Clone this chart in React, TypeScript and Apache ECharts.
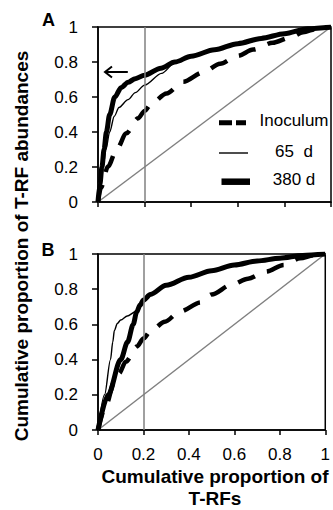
import React, { useEffect, useRef } from "react";
import * as echarts from "echarts";

// ---- data ----
const X_TICKS = [0, 0.2, 0.4, 0.6, 0.8, 1];
const Y_TICKS = [0, 0.2, 0.4, 0.6, 0.8, 1];
const PANEL_LABELS = ["A", "B"];
const LEGEND_NAMES = ["Inoculum", "65  d", "380 d"];
const REF_X = 0.2;
const DIAGONAL = [[0, 0], [1, 1]];

const inoculumA = [
  [0, 0], [0.012, 0.08], [0.043, 0.203], [0.079, 0.298], [0.122, 0.393], [0.172, 0.478],
  [0.2, 0.52], [0.23, 0.564], [0.294, 0.62], [0.366, 0.687], [0.45, 0.74], [0.524, 0.79],
  [0.6, 0.835], [0.666, 0.871], [0.75, 0.91], [0.825, 0.94], [0.88, 0.97], [0.94, 0.99], [1, 1],
];
const d65A = [
  [0, 0], [0.01, 0.1], [0.022, 0.2], [0.034, 0.3], [0.05, 0.4], [0.07, 0.49], [0.09, 0.54],
  [0.129, 0.585], [0.16, 0.625], [0.2, 0.668], [0.273, 0.735], [0.33, 0.795], [0.4, 0.833],
  [0.5, 0.87], [0.6, 0.905], [0.7, 0.935], [0.8, 0.962], [0.9, 0.99], [1, 1],
];
const d380A = [
  [0, 0], [0.008, 0.1], [0.017, 0.2], [0.026, 0.3], [0.036, 0.4], [0.05, 0.5], [0.072, 0.6],
  [0.1, 0.655], [0.13, 0.685], [0.16, 0.705], [0.2, 0.725], [0.27, 0.765], [0.33, 0.8],
  [0.4, 0.833], [0.5, 0.87], [0.6, 0.905], [0.7, 0.935], [0.8, 0.962], [0.9, 0.99], [1, 1],
];

const inoculumB = [
  [0, 0], [0.035, 0.14], [0.072, 0.275], [0.093, 0.322], [0.122, 0.388], [0.172, 0.475],
  [0.2, 0.52], [0.23, 0.56], [0.294, 0.615], [0.359, 0.672], [0.452, 0.725], [0.5, 0.77],
  [0.588, 0.826], [0.66, 0.86], [0.739, 0.9], [0.818, 0.938], [0.889, 0.976], [0.95, 0.993], [1, 1],
];
const d65B = [
  [0, 0], [0.029, 0.2], [0.055, 0.4], [0.065, 0.5], [0.072, 0.565], [0.085, 0.605],
  [0.1, 0.625], [0.129, 0.648], [0.165, 0.672], [0.2, 0.738], [0.25, 0.785], [0.3, 0.822],
  [0.4, 0.868], [0.5, 0.905], [0.6, 0.938], [0.7, 0.96], [0.8, 0.976], [0.9, 0.992], [1, 1],
];
const d380B = [
  [0, 0], [0.045, 0.2], [0.1, 0.4], [0.13, 0.5], [0.155, 0.6], [0.17, 0.67], [0.185, 0.71],
  [0.2, 0.738], [0.23, 0.77], [0.3, 0.822], [0.4, 0.868], [0.5, 0.905], [0.6, 0.938],
  [0.7, 0.96], [0.8, 0.976], [0.9, 0.992], [1, 1],
];

// arrow annotation in panel A (data coords: tail, head)
const ARROW_A = [[0.128, 0.743], [0.03, 0.743]];

const FONT = "'Liberation Sans', Arial, Helvetica, sans-serif";
const GRAY = "#808080";

export default function App() {
  const ref = useRef<HTMLDivElement>(null);

  useEffect(() => {
    document.body.style.margin = "0";
    const chart = echarts.init(ref.current!, null, { renderer: "svg" });

    const grids = [
      { left: 98, top: 27, width: 233, height: 175 },
      { left: 98, top: 254, width: 233, height: 176 },
    ];

    const xAxes = grids.map((_, i) => ({
      type: "value",
      gridIndex: i,
      min: 0,
      max: 1,
      interval: 0.2,
      axisLine: { show: true, lineStyle: { color: "#000", width: 1.5 } },
      axisTick: { show: true, length: 5, lineStyle: { color: "#000", width: 1.5 } },
      axisLabel: {
        show: i === 1,
        margin: 16,
        fontSize: 17,
        fontFamily: FONT,
        color: "#000",
        formatter: (v: number) => String(X_TICKS.find((t) => Math.abs(t - v) < 1e-9) ?? v),
      },
      splitLine: { show: false },
    }));

    const yAxes = grids.map((_, i) => ({
      type: "value",
      gridIndex: i,
      min: 0,
      max: 1,
      interval: 0.2,
      axisLine: { show: true, lineStyle: { color: "#000", width: 1.5 } },
      axisTick: { show: true, length: 6, lineStyle: { color: "#000", width: 1.5 } },
      axisLabel: {
        margin: 20,
        fontSize: 17,
        fontFamily: FONT,
        color: "#000",
        formatter: (v: number) => String(Y_TICKS.find((t) => Math.abs(t - v) < 1e-9) ?? v),
      },
      splitLine: { show: false },
    }));

    const panelSeries = (i: number, ino: number[][], d65: number[][], d380: number[][]) => [
      {
        type: "line",
        xAxisIndex: i,
        yAxisIndex: i,
        data: DIAGONAL,
        showSymbol: false,
        lineStyle: { color: GRAY, width: 1.5 },
        markLine: {
          silent: true,
          symbol: "none",
          label: { show: false },
          lineStyle: { color: GRAY, width: 1.5, type: "solid" },
          data: [{ xAxis: REF_X }],
        },
        z: 1,
      },
      {
        type: "line",
        name: LEGEND_NAMES[0],
        xAxisIndex: i,
        yAxisIndex: i,
        data: ino,
        showSymbol: false,
        smooth: 0.3,
        smoothMonotone: "x",
        lineStyle: { color: "#000", width: 4.5, type: [18, 13], cap: "butt" },
        z: 3,
      },
      {
        type: "line",
        name: LEGEND_NAMES[1],
        xAxisIndex: i,
        yAxisIndex: i,
        data: d65,
        showSymbol: false,
        smooth: 0.3,
        smoothMonotone: "x",
        lineStyle: { color: "#000", width: 1.4 },
        z: 4,
      },
      {
        type: "line",
        name: LEGEND_NAMES[2],
        xAxisIndex: i,
        yAxisIndex: i,
        data: d380,
        showSymbol: false,
        smooth: 0.3,
        smoothMonotone: "x",
        lineStyle: { color: "#000", width: 5 },
        z: 3,
      },
    ];

    chart.setOption({
      animation: false,
      grid: grids.map((g) => ({ ...g, show: true, borderColor: "#000", borderWidth: 1.5, backgroundColor: "transparent" })),
      xAxis: xAxes,
      yAxis: yAxes,
      series: [
        ...panelSeries(0, inoculumA, d65A, d380A),
        ...panelSeries(1, inoculumB, d65B, d380B),
      ],
    });

    const p0 = chart.convertToPixel({ gridIndex: 0 }, ARROW_A[0]) as number[];
    const p1 = chart.convertToPixel({ gridIndex: 0 }, ARROW_A[1]) as number[];

    const legendX = 219;
    const legendRows = [122.7, 153, 181.7];
    const legendTextX = 294;

    chart.setOption({
      graphic: [
        // arrow
        { type: "line", shape: { x1: p0[0], y1: p0[1], x2: p1[0], y2: p1[1] }, style: { stroke: "#000", lineWidth: 2 } },
        {
          type: "polyline",
          shape: { points: [[p1[0] + 7, p1[1] - 5.5], [p1[0], p1[1]], [p1[0] + 7, p1[1] + 5.5]] },
          style: { stroke: "#000", lineWidth: 2, fill: null },
        },
        // panel letters
        { type: "text", x: 42, y: 20, style: { text: PANEL_LABELS[0], font: `bold 18px ${FONT}`, fill: "#000", textVerticalAlign: "middle" } },
        { type: "text", x: 41.5, y: 250, style: { text: PANEL_LABELS[1], font: `bold 18px ${FONT}`, fill: "#000", textVerticalAlign: "middle" } },
        // legend
        { type: "line", shape: { x1: legendX, y1: legendRows[0], x2: legendX + 27, y2: legendRows[0] }, style: { stroke: "#000", lineWidth: 5, lineDash: [13, 4] } },
        { type: "line", shape: { x1: legendX, y1: legendRows[1], x2: legendX + 29, y2: legendRows[1] }, style: { stroke: "#000", lineWidth: 1.4 } },
        { type: "line", shape: { x1: legendX + 2.5, y1: legendRows[2], x2: legendX + 31, y2: legendRows[2] }, style: { stroke: "#000", lineWidth: 6.5 } },
        ...LEGEND_NAMES.map((t, k) => ({
          type: "text",
          x: legendTextX,
          y: legendRows[k] - 2,
          style: { text: t, font: `17px ${FONT}`, fill: "#000", textAlign: "center", textVerticalAlign: "middle" },
        })),
        // axis titles
        {
          type: "text",
          x: 21.5,
          y: 246,
          rotation: Math.PI / 2,
          style: {
            text: "Cumulative proportion of T-RF abundances",
            font: `bold 19px ${FONT}`,
            fill: "#000",
            textAlign: "center",
            textVerticalAlign: "middle",
          },
        },
        {
          type: "text",
          x: 215,
          y: 476,
          style: { text: "Cumulative proportion of", font: `bold 19px ${FONT}`, fill: "#000", textAlign: "center", textVerticalAlign: "middle" },
        },
        {
          type: "text",
          x: 215,
          y: 498,
          style: { text: "T-RFs", font: `bold 19px ${FONT}`, fill: "#000", textAlign: "center", textVerticalAlign: "middle" },
        },
      ],
    });

    return () => chart.dispose();
  }, []);

  return <div ref={ref} style={{ position: "absolute", left: 0, top: 0, width: 333, height: 510 }} />;
}
